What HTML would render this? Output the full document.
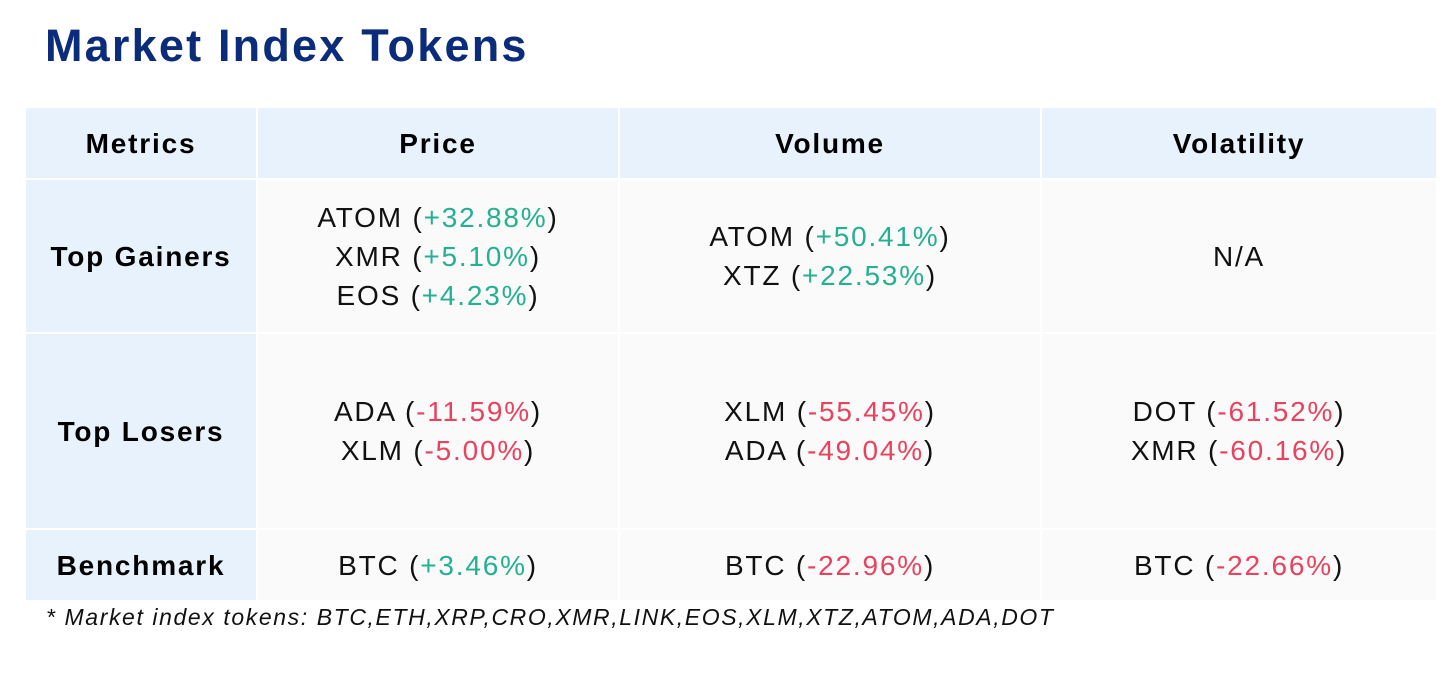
<!DOCTYPE html>
<html><head><meta charset="utf-8"><style>
body{margin:0;width:1456px;height:678px;background:#fff;font-family:"Liberation Sans",sans-serif;position:relative;overflow:hidden}
h1{position:absolute;left:45px;top:20px;margin:0;font-size:45px;font-weight:900;color:#0b2c7a;letter-spacing:2.2px}
table{position:absolute;left:24px;top:106px;border-collapse:collapse;width:1414px}
td{border:2px solid #fff;text-align:center;font-size:28px;color:#111;line-height:39px;padding:0;letter-spacing:1.8px}
.h td{background:#e7f2fc;height:70px;font-weight:bold;color:#000}
td.l{background:#e7f2fc;font-weight:bold;color:#000}
td.b{background:#fafafa}
.g{color:#25b092}.r{color:#e8435e}
.foot{position:absolute;left:46px;top:604px;font-size:23px;font-style:italic;color:#111;letter-spacing:1.6px}
</style></head><body>
<h1>Market Index Tokens</h1>
<table>
<tr class="h"><td style="width:230px">Metrics</td><td style="width:360px">Price</td><td style="width:420px">Volume</td><td>Volatility</td></tr>
<tr style="height:154px"><td class="l">Top Gainers</td>
<td class="b">ATOM (<span class="g">+32.88%</span>)<br>XMR (<span class="g">+5.10%</span>)<br>EOS (<span class="g">+4.23%</span>)</td>
<td class="b">ATOM (<span class="g">+50.41%</span>)<br>XTZ (<span class="g">+22.53%</span>)</td>
<td class="b">N/A</td></tr>
<tr style="height:196px"><td class="l">Top Losers</td>
<td class="b">ADA (<span class="r">-11.59%</span>)<br>XLM (<span class="r">-5.00%</span>)</td>
<td class="b">XLM (<span class="r">-55.45%</span>)<br>ADA (<span class="r">-49.04%</span>)</td>
<td class="b">DOT (<span class="r">-61.52%</span>)<br>XMR (<span class="r">-60.16%</span>)</td></tr>
<tr style="height:72px"><td class="l">Benchmark</td>
<td class="b">BTC (<span class="g">+3.46%</span>)</td>
<td class="b">BTC (<span class="r">-22.96%</span>)</td>
<td class="b">BTC (<span class="r">-22.66%</span>)</td></tr>
</table>
<div class="foot">* Market index tokens: BTC,ETH,XRP,CRO,XMR,LINK,EOS,XLM,XTZ,ATOM,ADA,DOT</div>
</body></html>
